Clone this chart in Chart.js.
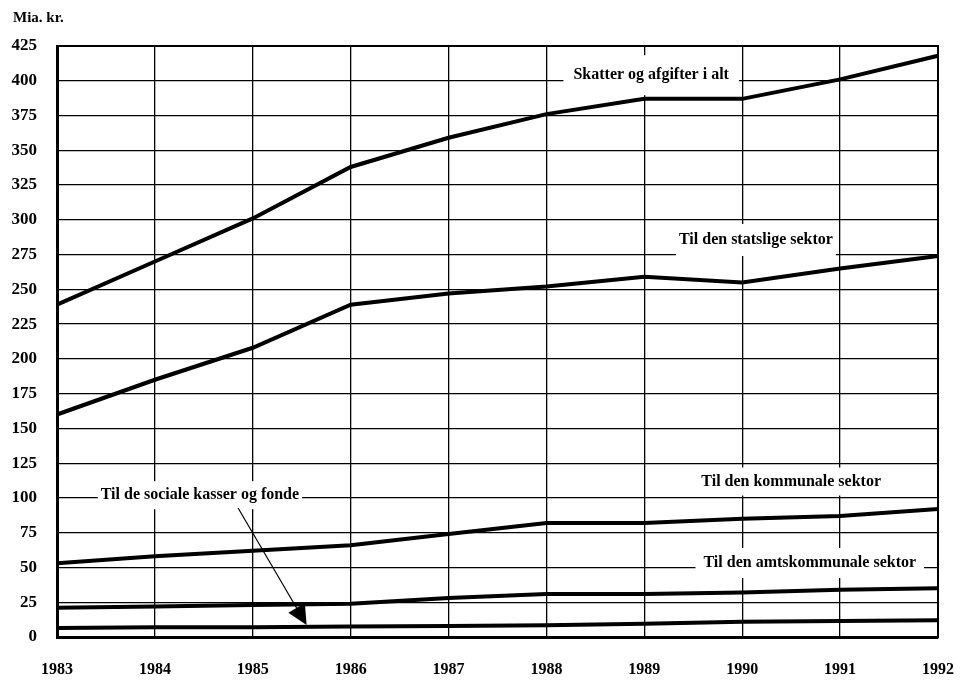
<!DOCTYPE html>
<html>
<head>
<meta charset="utf-8">
<script src="https://cdn.jsdelivr.net/npm/chart.js@4/dist/chart.umd.min.js"></script>
<style>
  html, body { margin: 0; padding: 0; background: #fff; }
  canvas { display: block; }
</style>
</head>
<body>
<canvas id="chart" width="971" height="685"></canvas>
<script>
// data (Mia. kr.)
const years = ['1983', '1984', '1985', '1986', '1987', '1988', '1989', '1990', '1991', '1992'];
const skatterIalt = [239, 270, 301, 338, 359, 376, 387, 387, 401, 418];
const statslige = [160, 185, 208, 239, 247, 252, 259, 255, 265, 274];
const kommunale = [53, 58, 62, 66, 74, 82, 82, 85, 87, 92];
const socialeKasser = [21, 22, 23, 24, 28, 31, 31, 32, 34, 35];
const amtskommunale = [6.5, 7, 7, 7.5, 8, 8.5, 9.5, 11, 11.5, 12];

const yMax = 425;
const yStep = 25;

// labels placed inside the plot: text, x (category index), y (value), box padding [h, v]
const noteTexts = ['Skatter og afgifter i alt', 'Til den statslige sektor', 'Til den kommunale sektor', 'Til den amtskommunale sektor', 'Til de sociale kasser og fonde'];
const noteX = [6.07, 7.14, 7.5, 7.69, 1.46];
const noteY = [404, 285.5, 111.8, 53.2, 102];
const notePad = [[10, 20], [3, 16], [55, 14], [8, 15], [3, 14]];
// arrow from the "sociale kasser" label: [x0, y0, x1, y1] in data units
const arrowLine = [1.85, 92.8, 2.55, 8.6];

const fontFam = '"Liberation Serif", "Times New Roman", serif';

const notesPlugin = {
  id: 'notes',
  beforeDatasetsDraw(chart) {
    const { ctx, chartArea: a } = chart;
    ctx.save();
    ctx.strokeStyle = '#000';
    ctx.lineWidth = 2;
    ctx.strokeRect(a.left, a.top, a.right - a.left, a.bottom - a.top);
    ctx.restore();
  },
  afterDatasetsDraw(chart) {
    const { ctx, chartArea: a, scales: { x, y } } = chart;
    ctx.save();
    ctx.font = 'bold 16px ' + fontFam;
    ctx.textAlign = 'center';
    ctx.textBaseline = 'middle';
    noteTexts.forEach((t, i) => {
      const cx = x.getPixelForValue(noteX[i]);
      const cy = y.getPixelForValue(noteY[i]);
      const w = ctx.measureText(t).width + notePad[i][0] * 2;
      const h = notePad[i][1] * 2;
      ctx.fillStyle = '#fff';
      ctx.fillRect(cx - w / 2, cy - h / 2, w, h);
      ctx.fillStyle = '#000';
      ctx.fillText(t, cx, cy);
    });

    // arrow
    const x0 = x.getPixelForValue(arrowLine[0]), y0 = y.getPixelForValue(arrowLine[1]);
    const x1 = x.getPixelForValue(arrowLine[2]), y1 = y.getPixelForValue(arrowLine[3]);
    const ang = Math.atan2(y1 - y0, x1 - x0);
    ctx.strokeStyle = '#000';
    ctx.lineWidth = 1.2;
    ctx.beginPath();
    ctx.moveTo(x0, y0);
    ctx.lineTo(x1 - Math.cos(ang) * 14, y1 - Math.sin(ang) * 14);
    ctx.stroke();
    ctx.beginPath();
    ctx.moveTo(x1, y1);
    ctx.lineTo(x1 - Math.cos(ang - 0.45) * 22, y1 - Math.sin(ang - 0.45) * 22);
    ctx.lineTo(x1 - Math.cos(ang + 0.45) * 22, y1 - Math.sin(ang + 0.45) * 22);
    ctx.closePath();
    ctx.fill();

    // unit label
    ctx.font = 'bold 15px ' + fontFam;
    ctx.textAlign = 'left';
    ctx.fillText('Mia. kr.', a.left - 44, a.top - 28);
    ctx.restore();
  }
};

function line(data) {
  return {
    data: data,
    borderColor: '#000',
    borderWidth: 4,
    pointRadius: 0,
    tension: 0,
    fill: false
  };
}

new Chart(document.getElementById('chart'), {
  type: 'line',
  data: {
    labels: years,
    datasets: [
      line(skatterIalt),
      line(statslige),
      line(kommunale),
      line(socialeKasser),
      line(amtskommunale)
    ]
  },
  options: {
    responsive: false,
    animation: false,
    devicePixelRatio: 1,
    layout: { padding: { top: 46, right: 33, left: 0, bottom: 0 } },
    plugins: {
      legend: { display: false },
      tooltip: { enabled: false }
    },
    scales: {
      x: {
        offset: false,
        grid: { color: '#000', lineWidth: 1.3, drawTicks: false },
        border: { display: true, color: '#000', width: 3 },
        ticks: {
          color: '#000',
          padding: 23,
          maxRotation: 0,
          font: { family: fontFam, size: 16, weight: 'bold' }
        },
        afterFit(scale) {
          scale.height = 48;
          scale.paddingLeft = 0;
          scale.paddingRight = 0;
        }
      },
      y: {
        min: 0,
        max: yMax,
        grid: { color: '#000', lineWidth: 1.3, drawTicks: false },
        border: { display: true, color: '#000', width: 3 },
        ticks: {
          stepSize: yStep,
          color: '#000',
          padding: 20,
          font: { family: fontFam, size: 17, weight: 'bold' }
        },
        afterFit(scale) { scale.width = 57; }
      }
    }
  },
  plugins: [notesPlugin]
});
</script>
</body>
</html>
